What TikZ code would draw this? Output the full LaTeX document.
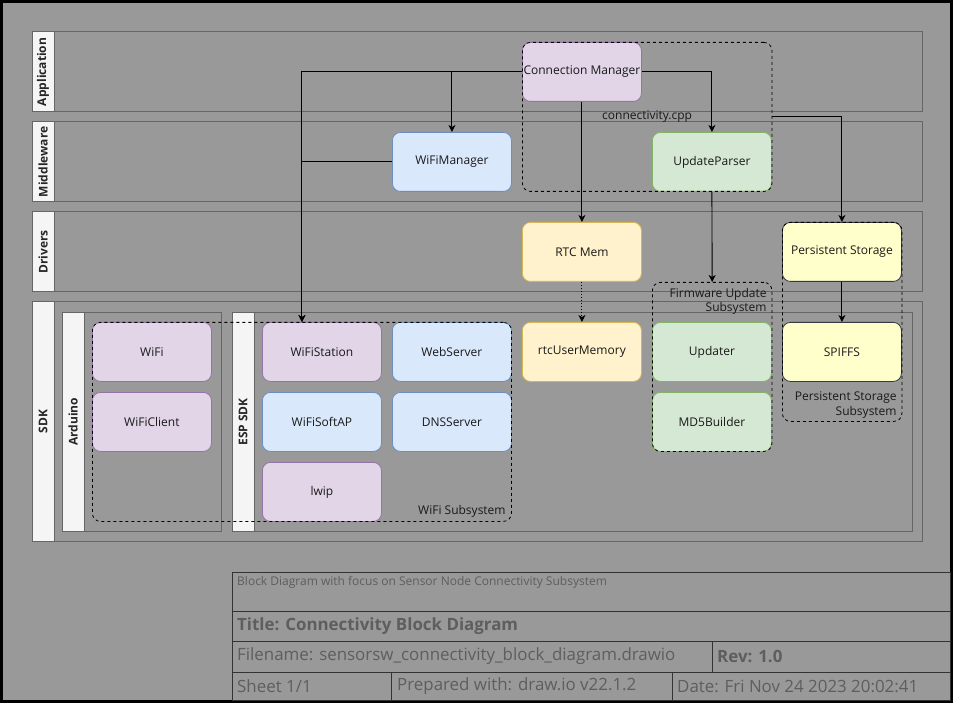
\documentclass[tikz,border=0pt]{standalone}
\usepackage{fontspec}
\setmainfont{Open Sans}
\usetikzlibrary{shapes, arrows.meta, positioning, calc}

\definecolor{pagegray}{HTML}{999999}
\definecolor{lanestroke}{HTML}{666666}
\definecolor{lanefill}{HTML}{F5F5F5}
\definecolor{purplefill}{HTML}{E1D5E7}
\definecolor{purpleline}{HTML}{9673A6}
\definecolor{bluefill}{HTML}{DAE8FC}
\definecolor{blueline}{HTML}{6C8EBF}
\definecolor{greenfill}{HTML}{D5E8D4}
\definecolor{greenline}{HTML}{82B366}
\definecolor{orangefill}{HTML}{FFF2CC}
\definecolor{orangeline}{HTML}{D6B656}
\definecolor{yellowfill}{HTML}{FFFFCC}
\definecolor{yellowline}{HTML}{36393D}
\definecolor{tblinecol}{HTML}{333333}
\definecolor{tbtextcol}{HTML}{5E5E5E}

\tikzset{
	lane/.style={draw=lanestroke, line width=0.8pt, anchor=north west, inner sep=0pt},
	lanelabel/.style={draw=lanestroke, fill=lanefill, line width=0.8pt, rotate=90, inner sep=0pt, font=\fontsize{12}{14}\selectfont\bfseries, text=black!85},
	block/.style={draw, rounded corners=8pt, line width=0.8pt, minimum width=119pt, minimum height=59pt, anchor=north west, inner sep=0pt, font=\fontsize{12}{14}\selectfont, text=black!90},
	purpleblock/.style={block, fill=purplefill, draw=purpleline},
	blueblock/.style={block, fill=bluefill, draw=blueline},
	greenblock/.style={block, fill=greenfill, draw=greenline},
	orangeblock/.style={block, fill=orangefill, draw=orangeline},
	yellowblock/.style={block, fill=yellowfill, draw=yellowline},
	subsys/.style={draw, dash pattern=on 3pt off 3pt, rounded corners=8pt, line width=0.8pt, anchor=north west, inner sep=0pt},
	subtext/.style={font=\fontsize{12}{14.5}\selectfont, align=right, inner sep=0pt, text=black!90},
	conn/.style={-{Stealth[length=7pt, width=7pt, inset=2pt]}, line width=0.9pt},
	tbcell/.style={draw=tblinecol, line width=0.8pt, anchor=north west, inner sep=0pt},
	tbtext/.style={text=tbtextcol, anchor=west, inner sep=0pt, font=\fontsize{16.9}{19}\selectfont}
}

\begin{document}
\begin{tikzpicture}[x=1pt, y=-1pt]
		\fill[black] (0, 0) rectangle (953, 703);
		\fill[pagegray] (3, 3) rectangle (950, 700);

		\coordinate (app)  at (32, 31.5);
		\coordinate (mid)  at (32, 121.5);
		\coordinate (drv)  at (32, 211.5);
		\coordinate (sdk)  at (32, 301.5);
		\coordinate (ard)  at (62, 312);
		\coordinate (esp)  at (232, 312);

		\node[lane, minimum width=890pt, minimum height=80pt] (APP) at (app) {};
		\node[lane, minimum width=890pt, minimum height=80pt] (MID) at (mid) {};
		\node[lane, minimum width=890pt, minimum height=80pt] (DRV) at (drv) {};
		\node[lane, minimum width=890pt, minimum height=239.5pt] (SDK) at (sdk) {};
		\node[lane, minimum width=159pt, minimum height=219pt] (ARD) at (ard) {};
		\node[lane, minimum width=680pt, minimum height=219pt] (ESP) at (esp) {};

		\node[lanelabel, minimum width=80pt, minimum height=22pt] (APPL) at ($(APP.west)+(11,0)$) {Application};
		\node[lanelabel, minimum width=80pt, minimum height=22pt] (MIDL) at ($(MID.west)+(11,0)$) {Middleware};
		\node[lanelabel, minimum width=80pt, minimum height=22pt] (DRVL) at ($(DRV.west)+(11,0)$) {Drivers};
		\node[lanelabel, minimum width=239.5pt, minimum height=22pt] (SDKL) at ($(SDK.west)+(11,0)$) {SDK};
		\node[lanelabel, minimum width=219pt, minimum height=22pt] (ARDL) at ($(ARD.west)+(11,0)$) {Arduino};
		\node[lanelabel, minimum width=219pt, minimum height=22pt] (ESPL) at ($(ESP.west)+(11,0)$) {ESP SDK};

		\node[purpleblock] (CON) at (522, 42)  {Connection Manager};
		\node[blueblock]   (WFM) at (392, 132) {WiFiManager};
		\node[greenblock]  (UPP) at (652, 132) {UpdateParser};
		\node[orangeblock] (RTC) at (522, 222) {RTC Mem};
		\node[yellowblock] (PST) at (782, 222) {Persistent Storage};
		\node[purpleblock] (WIF) at (92, 322)  {WiFi};
		\node[purpleblock] (WCL) at (92, 392)  {WiFiClient};
		\node[purpleblock] (WST) at (262, 322) {WiFiStation};
		\node[blueblock]   (WSV) at (392, 322) {WebServer};
		\node[blueblock]   (SAP) at (262, 392) {WiFiSoftAP};
		\node[blueblock]   (DNS) at (392, 392) {DNSServer};
		\node[purpleblock] (LWI) at (262, 462) {lwip};
		\node[orangeblock] (RUM) at (522, 322) {rtcUserMemory};
		\node[greenblock]  (UPD) at (652, 322) {Updater};
		\node[greenblock]  (MD5) at (652, 392) {MD5Builder};
		\node[yellowblock] (SPI) at (782, 322) {SPIFFS};

		\node[subsys, minimum width=249.5pt, minimum height=149pt] (CPP) at (522, 42) {};
		\node[subsys, minimum width=419pt, minimum height=199pt] (WSS) at (92, 322) {};
		\node[subsys, minimum width=119.5pt, minimum height=169pt] (FUS) at (652, 282) {};
		\node[subsys, minimum width=119.5pt, minimum height=199pt] (PSS) at (782, 222) {};

		\node[subtext] (CPPT) at (CPP.center) {connectivity.cpp};
		\node[subtext, anchor=east] (WSST) at ($(WSS.south east)+(-6,-10)$) {WiFi Subsystem};
		\node[subtext, anchor=east] (FUST) at ($(FUS.north east)+(-5.5,19.5)$) {Firmware Update\\Subsystem};
		\node[subtext, anchor=east] (PSST) at ($(PSS.south east)+(-5.5,-17)$) {Persistent Storage\\Subsystem};

		\draw[conn] (CON.west) -| (WSS.north);
		\draw[conn] (CON.west) -| (WFM.north);
		\draw[conn] (WFM.west) -| (WSS.north);
		\draw[conn] (CON.east) -| (UPP.north);
		\draw[conn] (CON.south) -- (RTC.north);
		\draw[conn] (CPP.east) -| (PST.north);
		\draw[conn] (UPP.south) -- (FUS.north);
		\draw[conn, dash pattern=on 1pt off 2pt] (RTC.south) -- (RUM.north);
		\draw[conn] (PST.south) -- (SPI.north);

		\node[tbcell, minimum width=718pt, minimum height=39pt] (TBD) at (232, 572) {};
		\node[tbcell, minimum width=718pt, minimum height=30pt] (TBT) at (232, 611) {};
		\node[tbcell, minimum width=480pt, minimum height=31pt] (TBF) at (232, 641) {};
		\node[tbcell, minimum width=238pt, minimum height=31pt] (TBR) at (712, 641) {};
		\node[tbcell, minimum width=159pt, minimum height=28pt] (TBS) at (232, 672) {};
		\node[tbcell, minimum width=281pt, minimum height=28pt] (TBP) at (391, 672) {};
		\node[tbcell, minimum width=278pt, minimum height=28pt] (TBX) at (672, 672) {};

		\node[tbtext, font=\fontsize{12}{14}\selectfont] (DESC) at ($(TBD.north west)+(5,10)$) {Block Diagram with focus on Sensor Node Connectivity Subsystem};
		\node[tbtext, font=\fontsize{16.9}{19}\selectfont\bfseries] (TITL) at ($(TBT.west)+(5,-0.5)$) {Title: Connectivity Block Diagram};
		\node[tbtext] (FILE) at ($(TBF.west)+(5,-0.5)$) {Filename: sensorsw\_connectivity\_block\_diagram.drawio};
		\node[tbtext, font=\fontsize{16.9}{19}\selectfont\bfseries] (REVN) at ($(TBR.west)+(5,-0.5)$) {Rev: 1.0};
		\node[tbtext] (SHEE) at ($(TBS.west)+(5,0)$) {Sheet 1/1};
		\node[tbtext] (PREP) at ($(TBP.west)+(6,0)$) {Prepared with: draw.io v22.1.2};
		\node[tbtext] (DATE) at ($(TBX.west)+(5,0)$) {Date: Fri Nov 24 2023 20:02:41};
	\end{tikzpicture}
\end{document}
